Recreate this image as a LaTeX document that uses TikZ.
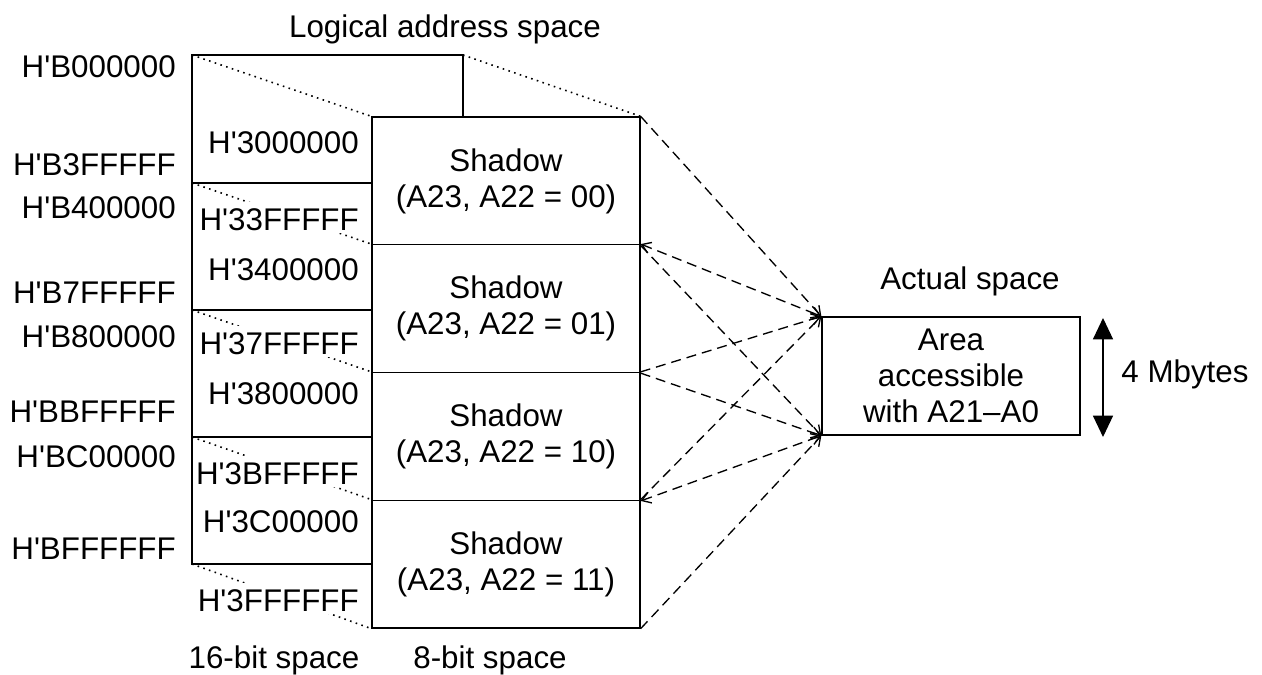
\documentclass[tikz,border=0pt]{standalone}
\usepackage{fontspec}
\setmainfont{Liberation Sans}[Ligatures=TeXOff]
\usetikzlibrary{arrows.meta}

\tikzset{
  txt/.style={inner sep=0.75pt, font=\fontsize{23.5}{27}\selectfont},
  lbl/.style={txt, anchor=base east},
  inlbl/.style={lbl, fill=white, text height=20pt, text depth=1.5pt},
  spacebox/.style={txt, draw, line width=1pt, align=center, minimum width=201pt, minimum height=95.8pt},
  mapline/.style={line width=1pt, dash pattern=on 7.5pt off 4.5pt},
  edgeline/.style={line width=1.2pt, dash pattern=on 1.2pt off 3.3pt},
}

\begin{document}
\begin{tikzpicture}[x=0.75pt,y=0.75pt,yscale=-1,xscale=1, >={Straight Barb[length=6.5pt,width=8.5pt]}]
\useasboundingbox (0,0) rectangle (1262,674);

%Shape: 8-bit space (shadows)
\node [spacebox] (sh0) at (506,180.9) {Shadow\\(A23, A22 = 00)};
\node [spacebox] (sh1) at (506,308.6) {Shadow\\(A23, A22 = 01)};
\node [spacebox] (sh2) at (506,436.4) {Shadow\\(A23, A22 = 10)};
\node [spacebox] (sh3) at (506,564.1) {Shadow\\(A23, A22 = 11)};

%Shape: actual space
\node [spacebox, minimum width=193.5pt, minimum height=88.5pt] (act) at (951,376) {Area\\accessible\\with A21–A0};

%16-bit space corners
\coordinate (w0) at (192,55);
\coordinate (w1) at (192,183);
\coordinate (w2) at (192,310);
\coordinate (w3) at (192,437);
\coordinate (w4) at (192,564);
\coordinate (wr) at (463,55);

%Dotted Lines
\draw [edgeline] (w0) -- (sh0.north west) ;
\draw [edgeline] (wr) -- (sh0.north east) ;
\draw [edgeline] (w1) -- (sh1.north west) ;
\draw [edgeline] (w2) -- (sh2.north west) ;
\draw [edgeline] (w3) -- (sh3.north west) ;
\draw [edgeline] (w4) -- (sh3.south west) ;

%Dashed Lines
\draw [mapline, ->] (sh0.north east) -- (act.north west) ;
\draw [mapline, ->] (sh0.south east) -- (act.south west) ;
\draw [mapline, <->] (sh1.north east) -- (act.north west) ;
\draw [mapline, ->] (sh1.south east) -- (act.south west) ;
\draw [mapline, ->] (sh2.north east) -- (act.north west) ;
\draw [mapline, <->] (sh2.south east) -- (act.south west) ;
\draw [mapline, ->] (sh3.north east) -- (act.north west) ;
\draw [mapline, ->] (sh3.south east) -- (act.south west) ;

%Size Arrow
\coordinate (s0) at (1103,318);
\coordinate (s1) at (1103,437);
\draw [line width=1pt, {Triangle[width=15pt,length=16pt]}-{Triangle[width=15pt,length=16pt]}] (s0) -- (s1) ;

% Text Node
\node [txt, anchor=base] (ttl) at (445,38) {Logical address space};
% Text Node
\node [txt, anchor=base] (acttl) at (970,289) {Actual space};
% Text Node
\node [txt, anchor=base] (mb) at (1185,382) {4 Mbytes};
% Text Node
\node [txt, anchor=base] (w16) at (274,668) {16-bit space};
% Text Node
\node [txt, anchor=base] (w8) at (490,668) {8-bit space};

% Text Node
\node [lbl] (b0) at (177,78) {H'B000000};
\node [lbl] (b1) at (177,175) {H'B3FFFFF};
\node [lbl] (b2) at (177,218) {H'B400000};
\node [lbl] (b3) at (177,303) {H'B7FFFFF};
\node [lbl] (b4) at (177,347) {H'B800000};
\node [lbl] (b5) at (177,422) {H'BBFFFFF};
\node [lbl] (b6) at (177,467) {H'BC00000};
\node [lbl] (b7) at (177,559) {H'BFFFFFF};

% Text Node
\node [inlbl] (c0) at (360,153) {H'3000000};
\node [inlbl] (c1) at (360,230) {H'33FFFFF};
\node [inlbl] (c2) at (360,280) {H'3400000};
\node [inlbl] (c3) at (360,354) {H'37FFFFF};
\node [inlbl] (c4) at (360,404) {H'3800000};
\node [inlbl] (c5) at (360,484) {H'3BFFFFF};
\node [inlbl] (c6) at (360,532) {H'3C00000};
\node [inlbl] (c7) at (360,611) {H'3FFFFFF};

%Shape: 16-bit space
\draw [line width=1pt] (372,564) -- (w4) -- (w0) -- (wr) -- (463,117) ;
\draw [line width=1pt] (w1) -- (372,183) (w2) -- (372,310) (w3) -- (372,437) ;

\end{tikzpicture}
\end{document}
